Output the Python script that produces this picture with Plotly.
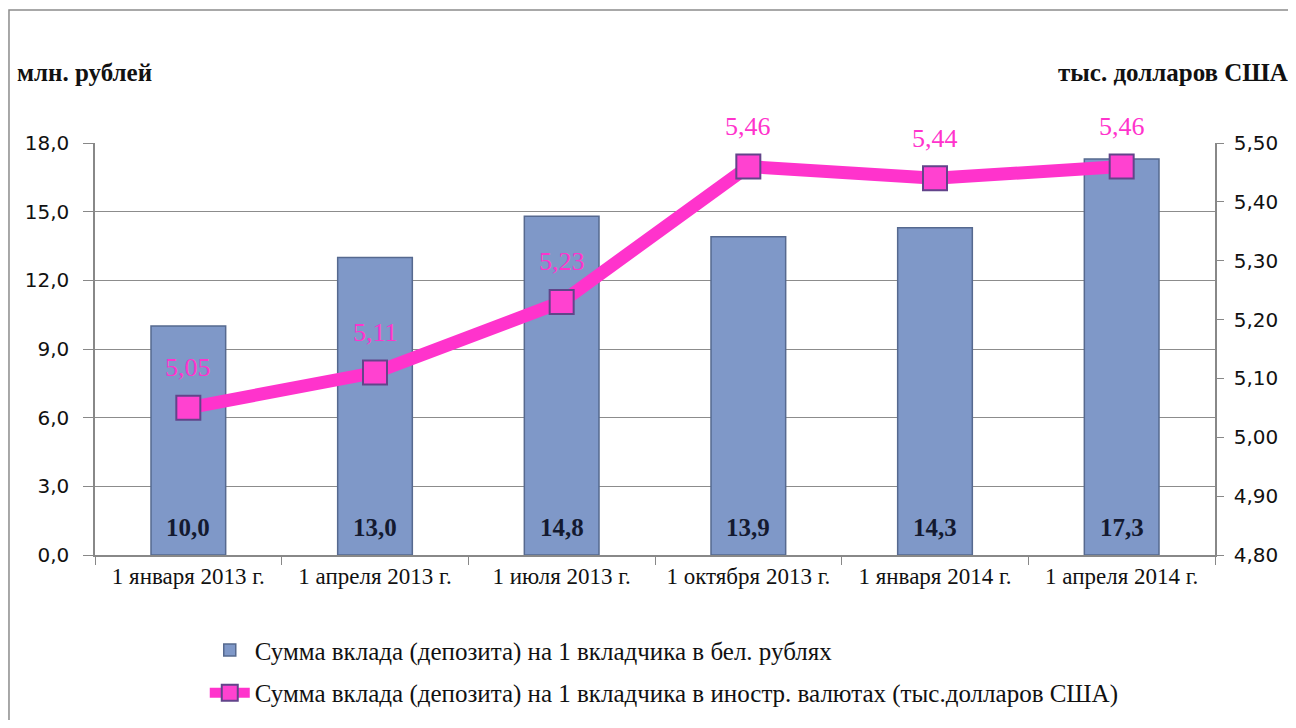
import plotly.graph_objects as go

# Dates of the observations
categories = ["1 января 2013 г.", "1 апреля 2013 г.", "1 июля 2013 г.",
              "1 октября 2013 г.", "1 января 2014 г.", "1 апреля 2014 г."]
# Deposit per depositor, bel. roubles (mln)
rub_values = [10.0, 13.0, 14.8, 13.9, 14.3, 17.3]
# Deposit per depositor, foreign currency (thousand USD)
usd_values = [5.05, 5.11, 5.23, 5.46, 5.44, 5.46]

left_ticks = [0, 3, 6, 9, 12, 15, 18]
right_ticks = [4.8, 4.9, 5.0, 5.1, 5.2, 5.3, 5.4, 5.5]

BAR_NAME = "Сумма вклада (депозита) на 1 вкладчика в бел. рублях"
LINE_NAME = "Сумма вклада (депозита) на 1 вкладчика в иностр. валютах (тыс.долларов США)"

SERIF = "Liberation Serif"
SANS = "DejaVu Sans"
PINK = "#ff33cc"


def comma(v, digits):
    return f"{v:.{digits}f}".replace(".", ",")


fig = go.Figure()

fig.add_trace(go.Bar(
    x=categories, y=rub_values, name=BAR_NAME, width=0.4,
    marker=dict(color="#7f98c8", line=dict(color="#56698f", width=1.5)),
    legend="legend",
))

fig.add_trace(go.Scatter(
    x=categories, y=usd_values, name=LINE_NAME, yaxis="y2",
    mode="lines+markers",
    line=dict(color=PINK, width=13),
    marker=dict(symbol="square", size=24, color="#ff42d0",
                line=dict(color="#62448a", width=2)),
    legend="legend2",
))

# dark bold labels near the bottom of each bar
for c, v in zip(categories, rub_values):
    fig.add_annotation(x=c, y=0, xref="x", yref="y", yshift=28, yanchor="middle",
                       text=f"<b>{comma(v, 1)}</b>", showarrow=False,
                       font=dict(family=SERIF, size=25, color="#141a30"))

# pink value labels above the line markers
for c, v in zip(categories, usd_values):
    fig.add_annotation(x=c, y=v, xref="x", yref="y2", yshift=40, yanchor="middle",
                       text=comma(v, 2), showarrow=False,
                       font=dict(family=SERIF, size=26, color=PINK))

# unit captions
fig.add_annotation(x=-0.0714, y=1.172, xref="paper", yref="paper", xanchor="left",
                   yanchor="middle", text="<b>млн. рублей</b>", showarrow=False,
                   font=dict(family=SERIF, size=25, color="#111111"))
fig.add_annotation(x=1.067, y=1.172, xref="paper", yref="paper", xanchor="right",
                   yanchor="middle", text="<b>тыс. долларов США</b>", showarrow=False,
                   font=dict(family=SERIF, size=25, color="#111111"))

# outer chart frame
fig.add_shape(type="rect", xref="paper", yref="paper",
              x0=-0.0768, x1=1.2, y0=-0.6, y1=1.323,
              line=dict(color="#8c8c8c", width=1.5), layer="below")

fig.update_layout(
    width=1288, height=712,
    margin=dict(l=87, r=81, t=135, b=165),
    paper_bgcolor="white", plot_bgcolor="white",
    separators=", ",
    showlegend=True,
    xaxis=dict(
        showline=True, linecolor="#888888", linewidth=1.5,
        ticks="outside", tickson="boundaries", ticklen=8, tickcolor="#888888",
        tickfont=dict(family=SERIF, size=23, color="#111111"),
        showgrid=False,
    ),
    yaxis=dict(
        range=[0, 18], tickvals=left_ticks, tickformat=".1f",
        showline=True, linecolor="#888888", linewidth=1.5,
        ticks="outside", ticklen=10, tickcolor="#888888", ticklabelstandoff=10,
        showgrid=True, gridcolor="#8c8c8c", gridwidth=1.2,
        tickfont=dict(family=SANS, size=20, color="#111111"),
        zeroline=False,
    ),
    yaxis2=dict(
        range=[4.8, 5.5], tickvals=right_ticks, tickformat=".2f",
        overlaying="y", side="right",
        showline=True, linecolor="#888888", linewidth=1.5,
        ticks="outside", ticklen=7, tickcolor="#888888", ticklabelstandoff=6,
        showgrid=False, zeroline=False,
        tickfont=dict(family=SANS, size=20, color="#111111"),
    ),
    legend=dict(x=0.098, y=0.098, xanchor="left", yanchor="middle", yref="container",
                font=dict(family=SERIF, size=25, color="#111111"),
                bgcolor="rgba(0,0,0,0)", itemwidth=40),
    legend2=dict(x=0.098, y=0.038, xanchor="left", yanchor="middle", yref="container",
                 font=dict(family=SERIF, size=25, color="#111111"),
                 bgcolor="rgba(0,0,0,0)", itemwidth=40),
)

fig.write_html("out.html")
